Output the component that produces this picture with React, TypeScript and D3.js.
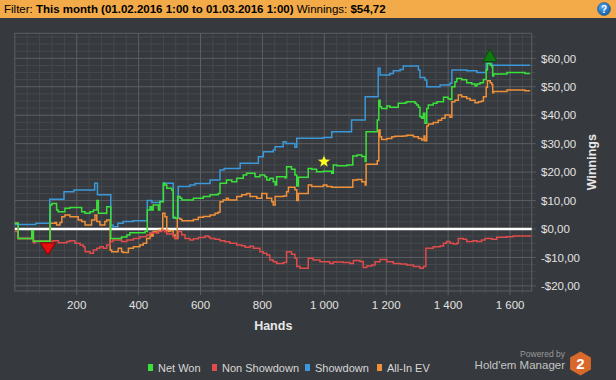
import React from "react";
import * as d3 from "d3";

// ---- data (hand, winnings $) ----
const netWon: [number, number][] = [
  [0, 2], [11, -3.3], [55, -0.6], [60, -4.3], [114, 8.4], [120, 9], [135, 6.7], [140, 6.1], [162, 7.3], [178, 7.6],
  [216, 6.1], [227, 5.5], [243, 6.1], [254, 6.7], [265, 10], [270, 5.5], [297, 7.8], [310, -3.3], [345, -2.8], [362, -2.1],
  [372, -1.3], [421, -0.9], [428, 6.7], [437, 7.8], [442, 6.7], [447, 8.4], [464, 6.7], [469, 9.6], [480, 16.1], [485, 15.5],
  [491, 14.3], [507, 13.7], [512, 4.1], [518, 3.8], [526, 11.4], [534, 10.8], [540, 10.2], [577, 10.8], [609, 11.4], [631, 12],
  [657, 12.5], [663, 16.1], [684, 17.2], [701, 16.6], [717, 17.8], [738, 19], [749, 19.6], [776, 18.4], [792, 19], [808, 18.4],
  [814, 17.2], [824, 17.8], [835, 16.6], [841, 15.5], [846, 18.4], [873, 18], [878, 21.9], [894, 21], [905, 19], [911, 15.1],
  [916, 18.2], [948, 21.3], [959, 21], [975, 20.1], [997, 20.3], [1024, 19.6], [1029, 22.5], [1041, 22.2], [1073, 22.5], [1092, 25.7],
  [1106, 26], [1121, 25.5], [1132, 23.7], [1135, 34.2], [1171, 38.3], [1176, 45.3], [1180, 43], [1185, 42.4], [1202, 43.2], [1212, 42.8],
  [1239, 44.2], [1261, 44.4], [1266, 44.7], [1293, 44.2], [1298, 43.6], [1304, 42.8], [1309, 39.5], [1315, 38.9], [1320, 40.7], [1325, 37.2],
  [1331, 42.4], [1336, 43.6], [1352, 44.2], [1364, 44.7], [1385, 46.3], [1400, 45.8], [1406, 45.5], [1412, 50], [1422, 51.8], [1428, 52.9],
  [1444, 52.5], [1460, 51.4], [1476, 51], [1487, 50.3], [1493, 51], [1503, 51.4], [1514, 52.6], [1523, 55.9], [1527, 58.2], [1536, 57.6],
  [1541, 57], [1544, 53.8], [1547, 54.5], [1590, 55], [1648, 54.7], [1665, 54.7],
];

const nonShowdown: [number, number][] = [
  [0, -0.9], [11, -3.3], [55, -3.0], [60, -4.8], [66, -4.4], [124, -4.1], [141, -4.8], [168, -4.4], [178, -4.1], [194, -5],
  [211, -5.6], [221, -6.2], [227, -8], [243, -8.5], [254, -7.4], [265, -6.8], [275, -6.2], [286, -6.8], [297, -5.6], [308, -4.4],
  [317, -3.9], [345, -4.4], [362, -3.9], [383, -3.3], [404, -2.7], [426, -2.1], [437, -1.5], [447, -1.2], [464, -0.9], [475, -0.4],
  [485, -1], [491, -1.8], [507, -1.6], [512, -2.7], [518, -3.3], [528, -0.9], [539, -2], [550, -3.3], [566, -3.9], [577, -3.4],
  [593, -3.0], [615, -2.5], [625, -2.8], [631, -3.3], [647, -3.6], [663, -4.1], [679, -4.5], [695, -5], [717, -5.6], [733, -5.9],
  [744, -6.4], [760, -6.1], [771, -6.8], [792, -8], [803, -8.5], [814, -9.1], [824, -10.9], [835, -11.5], [846, -12.1], [868, -11.8],
  [878, -8], [894, -8.9], [905, -10.3], [911, -13.2], [922, -13.8], [948, -10.3], [964, -10.9], [986, -11.5], [1008, -11.5], [1018, -12.1],
  [1029, -11.6], [1061, -11.8], [1083, -12.1], [1094, -11.1], [1115, -11.4], [1126, -13.5], [1137, -13], [1153, -12.7], [1164, -11.5], [1180, -10.7],
  [1202, -11.5], [1223, -12.1], [1245, -12.3], [1266, -12.7], [1288, -13.2], [1309, -13.8], [1320, -13.2], [1328, -6.8], [1352, -6.2], [1374, -6],
  [1385, -5], [1395, -4.4], [1406, -5], [1417, -5.3], [1428, -5], [1433, -3.3], [1449, -3.6], [1460, -4.4], [1481, -4.1], [1493, -4.4],
  [1508, -3.9], [1519, -3.3], [1541, -3.6], [1557, -2.9], [1589, -2.7], [1610, -2.5], [1665, -2.8],
];

const showdown: [number, number][] = [
  [0, 1.6], [68, 2], [113, 10.5], [159, 13.1], [191, 13.7], [258, 16.1], [267, 12], [310, 1.4], [317, 0.8], [333, 2],
  [350, 2.6], [382, 2.9], [428, 10], [443, 9.3], [469, 9.8], [480, 16.1], [512, 3.8], [528, 14.9], [566, 15.5], [582, 16],
  [631, 17.2], [663, 20.7], [676, 21.3], [728, 23.1], [787, 25.4], [803, 27.2], [835, 27.8], [841, 28.9], [867, 30.7], [876, 30.1],
  [905, 28.7], [911, 31.9], [997, 32.2], [1024, 34.2], [1088, 38.3], [1132, 46.5], [1174, 56.5], [1180, 54.1], [1212, 54.7], [1223, 55.6],
  [1245, 56.1], [1255, 57.3], [1304, 55.9], [1309, 53.3], [1325, 52.4], [1331, 50], [1374, 50.6], [1406, 51.2], [1412, 55.9], [1460, 55.6],
  [1493, 55], [1523, 58.2], [1541, 57.6], [1665, 57.6],
];

const allInEv: [number, number][] = [
  [0, 2], [11, -3.3], [55, -0.6], [60, -4.3], [114, 2], [130, 2.3], [135, 1.4], [146, 2.3], [152, 4.3], [162, 4.9],
  [178, 4.3], [205, 3.2], [216, 2.6], [227, 1.4], [248, 3.2], [259, 4.9], [265, 2.6], [275, 1.4], [291, 2.6], [297, 3.2],
  [308, -7.4], [313, -8], [334, -6.8], [345, -8], [350, -8.3], [367, -6.8], [383, -6.2], [404, -5.6], [415, -5], [426, -3.3],
  [437, -1.5], [442, -2.5], [447, -0.9], [458, -1.3], [464, -0.4], [475, 0.2], [478, 5.5], [485, 4.3], [491, -0.4], [496, -0.9],
  [501, -0.6], [512, -2.1], [518, -3.3], [525, 3.8], [534, 3.4], [540, 2.9], [577, 3.3], [593, 4.1], [609, 4.4], [631, 4.9],
  [647, 5.5], [657, 5.9], [663, 9.6], [673, 10.2], [684, 10.8], [690, 10.2], [717, 11.4], [733, 12], [749, 12.5], [760, 11.4],
  [782, 10.8], [798, 12.5], [814, 10.8], [830, 9.6], [835, 8.4], [841, 11.4], [868, 11.6], [878, 13.1], [884, 14.7], [905, 13.8],
  [911, 10], [916, 12.5], [948, 15.5], [959, 14.9], [997, 15.5], [1008, 14.9], [1024, 14.7], [1092, 17.2], [1106, 17.4], [1121, 16.6],
  [1132, 15.5], [1135, 22.8], [1171, 24], [1176, 34.8], [1180, 32.4], [1185, 31.5], [1202, 31.8], [1218, 32.4], [1228, 32.6], [1255, 32.7],
  [1266, 33], [1288, 32.4], [1304, 31.8], [1315, 31.3], [1322, 32.7], [1325, 31], [1331, 36.2], [1336, 36.9], [1352, 37.4], [1368, 38.2],
  [1379, 38.9], [1390, 40.1], [1406, 39.3], [1412, 44.7], [1422, 45.3], [1433, 47.1], [1444, 46.5], [1460, 45.9], [1471, 45.3], [1487, 44.4],
  [1498, 44.7], [1508, 45], [1514, 46.5], [1523, 49.8], [1527, 52.1], [1536, 51.4], [1541, 50.8], [1544, 47.9], [1547, 48.3], [1590, 48.9],
  [1648, 48.6], [1665, 48.6],
];

const xTicks = [200, 400, 600, 800, 1000, 1200, 1400, 1600];
const yTicks = [-20, -10, 0, 10, 20, 30, 40, 50, 60];
const legendNames = ["Net Won", "Non Showdown", "Showdown", "All-In EV"];
const lowMarker: [number, number] = [107, -7.0];
const starMarker: [number, number] = [999, 23.7];
const highMarker: [number, number] = [1535, 61.0];

const W = 616;
const H = 380;
const FONT = "'Liberation Sans', Arial, sans-serif";

export default function App() {
  const x = d3.scaleLinear().domain([0, 1670]).range([14.8, 531.7]);
  const y = d3.scaleLinear().domain([-21.8, 68.8]).range([291, 33.3]);
  const [x0, x1] = x.range();
  const [yb, yt] = y.range();

  const minorX = d3.range(40, 1670, 40).filter((v) => v % 200 !== 0);
  const minorY = d3.range(-20, 68.8, 2.5).filter((v) => v % 10 !== 0);

  const line = d3
    .line<[number, number]>()
    .x((d) => x(d[0]))
    .y((d) => y(d[1]))
    .curve(d3.curveStepAfter);

  const fmtX = (v: number) => d3.format(",")(v).replace(/,/g, " ");
  const fmtY = (v: number) => (v < 0 ? "-$" : "$") + Math.abs(v).toFixed(2).replace(".", ",");

  const colors = ["#3be13b", "#e04b4b", "#3b98da", "#f0913a"];
  const series = [netWon, nonShowdown, showdown, allInEv];
  const drawOrder = [3, 1, 2, 0];

  const starPath = (cx: number, cy: number, ro: number, ri: number) => {
    const pts: string[] = [];
    for (let i = 0; i < 10; i++) {
      const r = i % 2 === 0 ? ro : ri;
      const a = -Math.PI / 2 + (i * Math.PI) / 5;
      pts.push(`${cx + r * Math.cos(a)},${cy + r * Math.sin(a)}`);
    }
    return "M" + pts.join("L") + "Z";
  };

  const lx = x(lowMarker[0]);
  const ly = y(lowMarker[1]);
  const hx = x(highMarker[0]);
  const hy = y(highMarker[1]);
  const sx = x(starMarker[0]);
  const sy = y(starMarker[1]);

  const legendX = [148, 212, 305, 377];

  const hex = (cx: number, cy: number, r: number) => {
    const pts: string[] = [];
    for (let i = 0; i < 6; i++) {
      const a = -Math.PI / 2 + (i * Math.PI) / 3;
      pts.push(`${cx + r * Math.cos(a)},${cy + r * Math.sin(a)}`);
    }
    return "M" + pts.join("L") + "Z";
  };

  return (
    <svg
      width={W}
      height={H}
      style={{ position: "absolute", left: 0, top: 0, display: "block" }}
      fontFamily={FONT}
    >
      <defs>
        <radialGradient id="helpg" cx="40%" cy="35%" r="70%">
          <stop offset="0%" stopColor="#5aa8f0" />
          <stop offset="100%" stopColor="#0d5aa8" />
        </radialGradient>
      </defs>
      <rect x={0} y={0} width={W} height={H} fill="#36393d" />
      {/* header */}
      <rect x={0} y={0} width={W} height={18} fill="#f2ab48" />
      <text x={4} y={13} fontSize={11.5} fill="#000">
        <tspan>Filter: </tspan>
        <tspan fontWeight="bold">This month (01.02.2016 1:00 to 01.03.2016 1:00)</tspan>
        <tspan> Winnings: </tspan>
        <tspan fontWeight="bold">$54,72</tspan>
      </text>
      <circle cx={604} cy={9} r={6.5} fill="url(#helpg)" stroke="#0a4a8a" strokeWidth={0.5} />
      <text x={604} y={12.5} fontSize={10} fontWeight="bold" fill="#fff" textAnchor="middle">?</text>

      {/* grid */}
      {minorX.map((v) => (
        <line key={"mx" + v} x1={x(v)} x2={x(v)} y1={yt} y2={yb + 3} stroke="#46494d" strokeWidth={1} />
      ))}
      {minorY.map((v) => (
        <line key={"my" + v} x1={x0} x2={x1 + 4} y1={y(v)} y2={y(v)} stroke="#46494d" strokeWidth={1} />
      ))}
      {xTicks.map((v) => (
        <line key={"Mx" + v} x1={x(v)} x2={x(v)} y1={yt} y2={yb + 4} stroke="#5c5f63" strokeWidth={1} />
      ))}
      {yTicks.map((v) => (
        <line key={"My" + v} x1={x0} x2={x1 + 4} y1={y(v)} y2={y(v)} stroke="#5c5f63" strokeWidth={1} />
      ))}
      <rect x={x0} y={yt} width={x1 - x0} height={yb - yt} fill="none" stroke="#5c5f63" strokeWidth={1} />

      {/* zero line */}
      <line x1={x0} x2={x1} y1={y(0)} y2={y(0)} stroke="#ffffff" strokeWidth={2.5} />

      {/* series */}
      {drawOrder.map((i) => (
        <path key={"s" + i} d={line(series[i]) || ""} fill="none" stroke={colors[i]} strokeWidth={1.5} />
      ))}

      {/* markers */}
      <path d={`M${lx - 7.5},${ly - 6} L${lx + 7.5},${ly - 6} L${lx},${ly + 6} Z`} fill="#e80c0c" stroke="#8a0000" strokeWidth={1} />
      <path d={`M${hx},${hy - 6.5} L${hx + 7},${hy + 6} L${hx - 7},${hy + 6} Z`} fill="#0f7a12" stroke="#064a08" strokeWidth={1} />
      <path d={starPath(sx, sy, 7, 3)} fill="#ffff1a" stroke="#3a3a60" strokeWidth={0.6} />

      {/* axes labels */}
      {xTicks.map((v) => (
        <text key={"xl" + v} x={x(v)} y={309} fontSize={11.5} fill="#e2e2e2" textAnchor="middle">
          {fmtX(v)}
        </text>
      ))}
      {yTicks.map((v) => (
        <text key={"yl" + v} x={541} y={y(v) + 4.2} fontSize={11.5} fill="#e2e2e2">
          {fmtY(v)}
        </text>
      ))}
      <text x={(x0 + x1) / 2} y={330} fontSize={12.5} fontWeight="bold" fill="#e8e8e8" textAnchor="middle">
        Hands
      </text>
      <text
        transform={`translate(596, ${(yt + yb) / 2}) rotate(-90)`}
        fontSize={12.5}
        fontWeight="bold"
        fill="#e8e8e8"
        textAnchor="middle"
      >
        Winnings
      </text>

      {/* legend */}
      {legendNames.map((n, i) => (
        <g key={"lg" + i}>
          <rect x={legendX[i]} y={364} width={5} height={7} fill={colors[i]} />
          <text x={legendX[i] + 10} y={372} fontSize={11} fill="#d8d8d8">
            {n}
          </text>
        </g>
      ))}

      {/* branding */}
      <text x={565} y={357} fontSize={8.5} fill="#9a9a9a" textAnchor="end">Powered by</text>
      <text x={565} y={368.5} fontSize={11.5} fill="#c4c4c4" textAnchor="end">Hold'em Manager</text>
      <path d={hex(580.5, 363.5, 12)} fill="#d9692b" />
      <text x={580.5} y={369} fontSize={15} fontWeight="bold" fill="#ffffff" textAnchor="middle">2</text>
    </svg>
  );
}
